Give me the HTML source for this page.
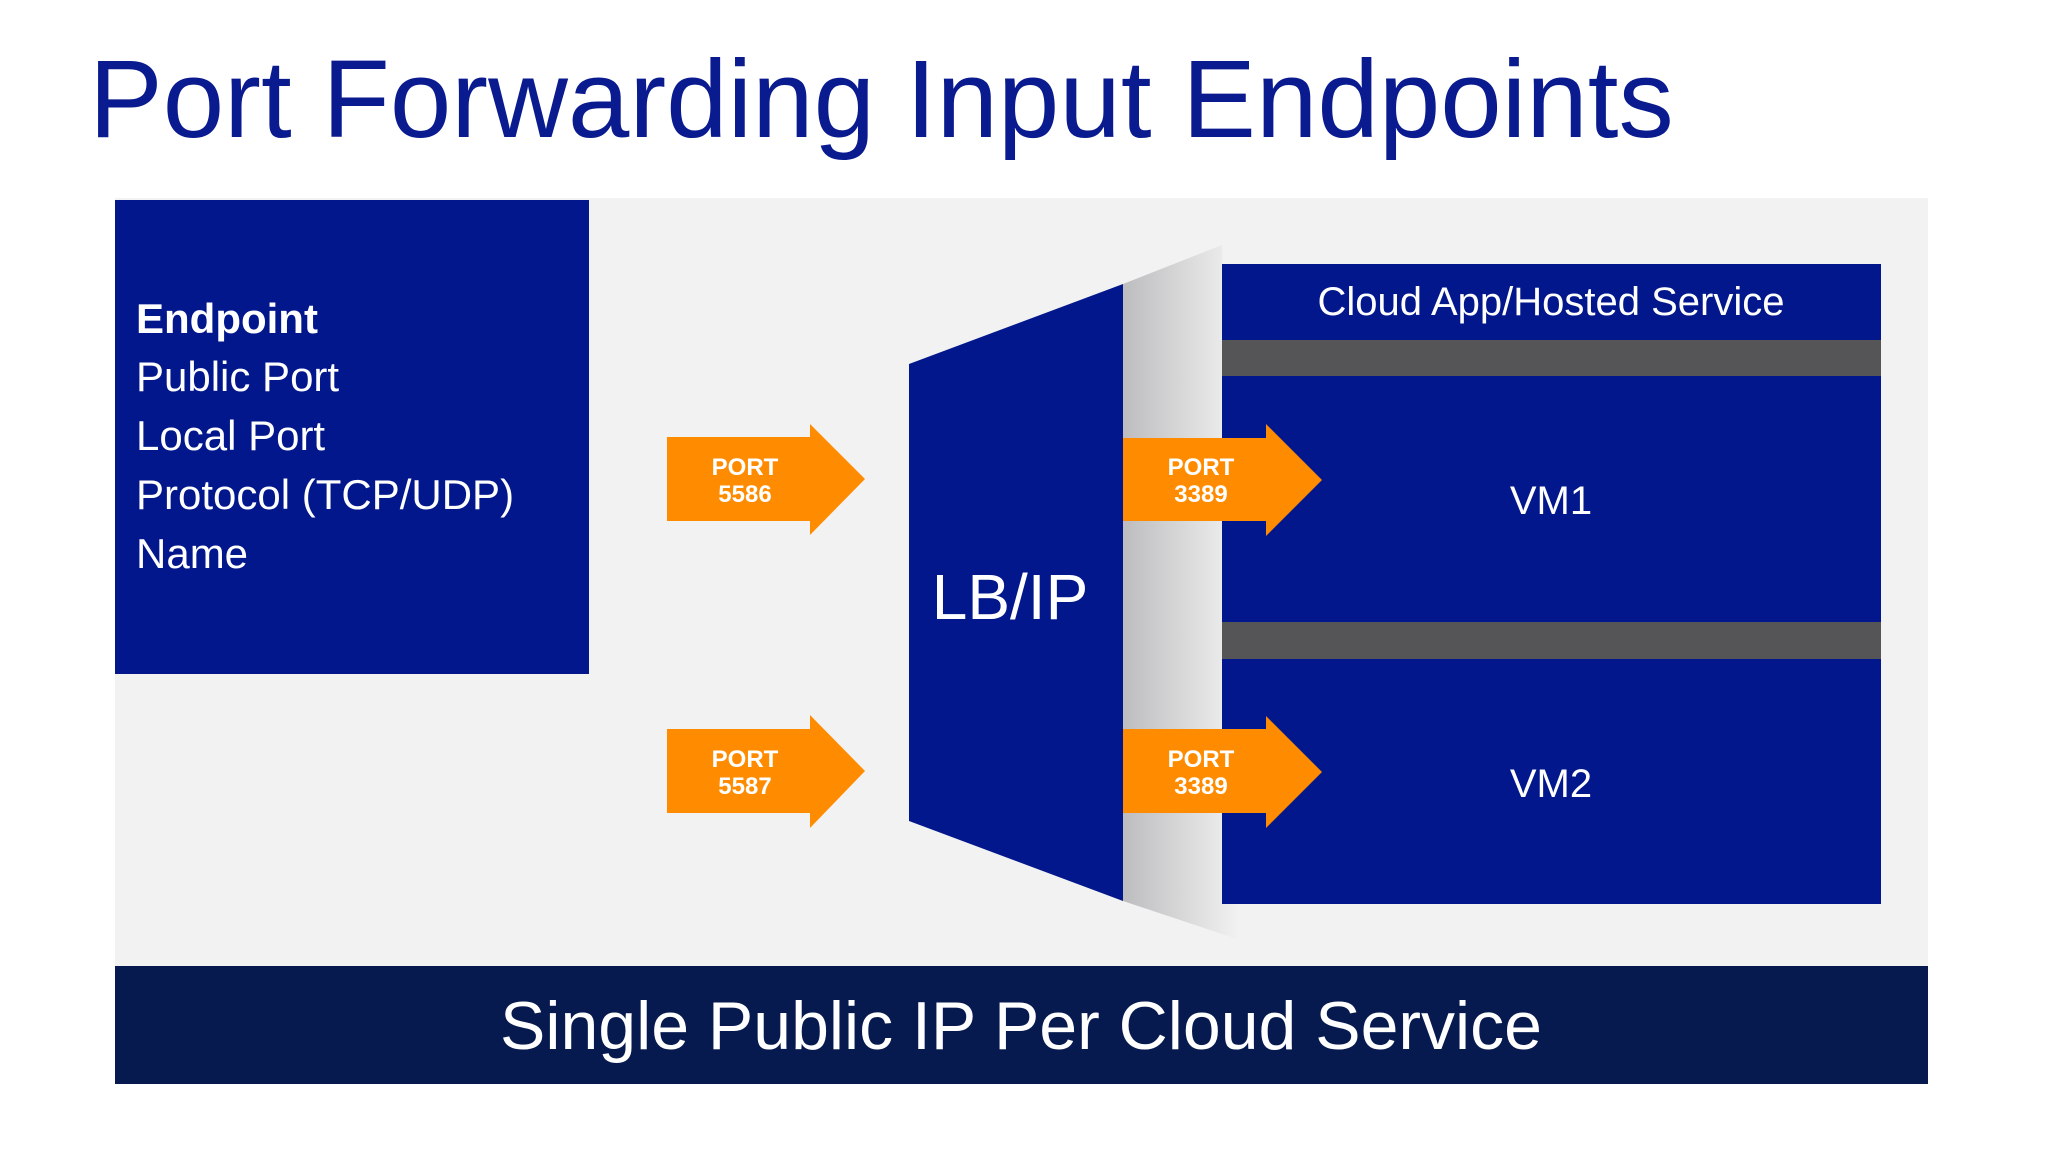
<!DOCTYPE html>
<html><head><meta charset="utf-8"><style>
html,body{margin:0;padding:0;background:#fff;}
svg{display:block;}
text{font-family:"Liberation Sans",Arial,sans-serif;}
</style></head><body>
<svg width="2048" height="1152" viewBox="0 0 2048 1152" xmlns="http://www.w3.org/2000/svg">
<defs>
<linearGradient id="sh" x1="0" y1="0" x2="1" y2="0">
<stop offset="0" stop-color="#bdbdbf"/>
<stop offset="1" stop-color="#f2f2f2"/>
</linearGradient>
</defs>
<rect width="2048" height="1152" fill="#fff"/>
<text x="89" y="137" font-size="110.5" fill="#0a1a8f">Port Forwarding Input Endpoints</text>
<rect x="115" y="198" width="1813" height="770" fill="#f2f2f3"/>
<rect x="115" y="200" width="474" height="474" fill="#02178c"/>
<g fill="#fff" font-size="42">
<text x="136" y="333" font-weight="bold">Endpoint</text>
<text x="136" y="391">Public Port</text>
<text x="136" y="450">Local Port</text>
<text x="136" y="509">Protocol (TCP/UDP)</text>
<text x="136" y="568">Name</text>
</g>
<polygon points="1123,284 1222,245 1240,940 1123,901" fill="url(#sh)"/>
<polygon points="909,364 1123,284 1123,901 909,821" fill="#02178c"/>
<text x="1010" y="619" font-size="64" fill="#fff" text-anchor="middle">LB/IP</text>
<rect x="1222" y="264" width="659" height="640" fill="#02178c"/>
<rect x="1222" y="340" width="659" height="36" fill="#555558"/>
<rect x="1222" y="622" width="659" height="37" fill="#555558"/>
<g fill="#fff" font-size="40" text-anchor="middle">
<text x="1551" y="315">Cloud App/Hosted Service</text>
<text x="1551" y="514">VM1</text>
<text x="1551" y="797">VM2</text>
</g>
<g fill="#ff8c00">
<polygon points="667,437 810,437 810,424 865,479 810,535 810,521 667,521"/>
<polygon points="667,729 810,729 810,715 865,771 810,828 810,813 667,813"/>
<polygon points="1123,438 1266,438 1266,424 1322,480 1266,536 1266,521 1123,521"/>
<polygon points="1123,729 1266,729 1266,716 1322,772 1266,828 1266,813 1123,813"/>
</g>
<g fill="#fff" font-size="24" font-weight="bold" text-anchor="middle">
<text x="745" y="475">PORT</text><text x="745" y="502">5586</text>
<text x="745" y="767">PORT</text><text x="745" y="794">5587</text>
<text x="1201" y="475">PORT</text><text x="1201" y="502">3389</text>
<text x="1201" y="767">PORT</text><text x="1201" y="794">3389</text>
</g>
<rect x="115" y="966" width="1813" height="118" fill="#071a4f"/>
<text x="1021" y="1049" font-size="68" fill="#fff" text-anchor="middle">Single Public IP Per Cloud Service</text>
</svg>
</body></html>
